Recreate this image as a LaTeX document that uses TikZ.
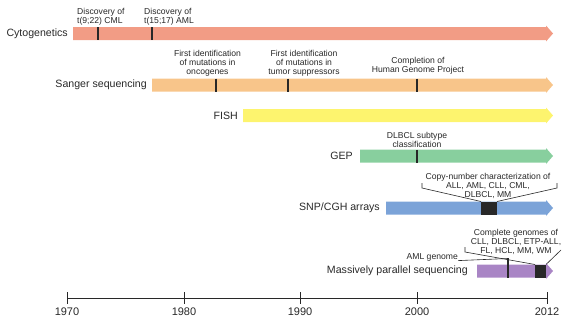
\documentclass[tikz,border=0pt]{standalone}
\usepackage{fontspec}
\setmainfont{Liberation Sans}
\definecolor{cyto}{RGB}{242,156,133}
\definecolor{sanger}{RGB}{248,197,138}
\definecolor{fish}{RGB}{253,244,110}
\definecolor{gep}{RGB}{136,207,158}
\definecolor{snp}{RGB}{123,163,216}
\definecolor{mps}{RGB}{169,133,197}
\definecolor{ink}{RGB}{40,40,40}
\newcommand\tlbar[3]{% colour, x start, y centre
  \fill[#1] (#2,#3-6.5) -- (546,#3-6.5) -- (546,#3-8) -- (553,#3) -- (546,#3+8) -- (546,#3+6.5) -- (#2,#3+6.5) -- cycle;}
\begin{document}
\begin{tikzpicture}[x=1pt,y=-1pt,
  lab/.style={font=\fontsize{10.6}{12}\selectfont, text=ink, anchor=east, inner sep=0pt},
  sm/.style={font=\fontsize{8.6}{8.8}\selectfont, text=ink, align=center, inner sep=0pt, anchor=north},
  yr/.style={font=\fontsize{11}{12}\selectfont, text=ink, inner sep=0pt},
  tickm/.style={line width=1.6pt, draw=ink},
  lead/.style={line width=0.6pt, draw=ink},
  blk/.style={fill=ink}]
\useasboundingbox (0,0) rectangle (562,322);

% bars
\tlbar{cyto}{73}{33.5}
\tlbar{sanger}{152}{85}
\tlbar{fish}{243}{115.5}
\tlbar{gep}{360}{156}
\tlbar{snp}{386}{208}
\tlbar{mps}{477}{271}

% row labels
\node[lab] (lcyto) at (68,33.5) {Cytogenetics};
\node[lab] (lsanger) at (147,85) {Sanger sequencing};
\node[lab] (lfish) at (238,115.5) {FISH};
\node[lab] (lgep) at (353,156) {GEP};
\node[lab] (lsnp) at (380,208) {SNP/CGH arrays};
\node[lab] (lmps) at (468,271) {Massively parallel sequencing};

% cytogenetics events
\draw[tickm] (98,27) -- (98,40);
\draw[tickm] (152,27) -- (152,40);
\node[sm, anchor=north west, align=left] (e1) at (77,8) {Discovery of\\t(9;22) CML};
\node[sm, anchor=north west, align=left] (e2) at (144,8) {Discovery of\\t(15;17) AML};

% sanger events
\draw[tickm] (216,78.5) -- (216,91.5);
\draw[tickm] (288,78.5) -- (288,91.5);
\draw[tickm] (417,78.5) -- (417,91.5);
\node[sm] (e3) at (207.5,50) {First identification\\of mutations in\\oncogenes};
\node[sm] (e4) at (304,50) {First identification\\of mutations in\\tumor suppressors};
\node[sm] (e5) at (418,57) {Completion of\\Human Genome Project};

% GEP
\draw[tickm] (417,149.5) -- (417,162.5);
\node[sm] (e6) at (417,132) {DLBCL subtype\\classification};

% SNP/CGH
\fill[blk] (481,201.5) rectangle (497,214.5);
\node[sm] (e7) at (488,173) {Copy-number characterization of\\ALL, AML, CLL, CML,\\DLBCL, MM};
\coordinate (b1) at (422,183);
\coordinate (b2) at (557,183);
\draw[lead] (b1) -- (422,188) -- (481,201.5);
\draw[lead] (b2) -- (557,188) -- (497,201.5);

% MPS
\fill[blk] (535,264.5) rectangle (546,277.5);
\draw[tickm] (508,258) -- (508,277.5);
\node[sm, anchor=north east] (e8) at (458,253) {AML genome};
\draw[lead] (e8.south east) ++(0,-0.5) -- (508,258.5);
\node[sm] (e9) at (516,229) {Complete genomes of\\CLL, DLBCL, ETP-ALL,\\FL, HCL, MM, WM};
\draw[lead] (465,247) -- (465,252) -- (535,264.5);
\draw[lead] (546,264.5) -- (561,250);

% axis
\coordinate (y70) at (67,298);
\coordinate (y80) at (184,298);
\coordinate (y90) at (300,298);
\coordinate (y00) at (417,298);
\coordinate (y12) at (547,298);
\draw[line width=0.9pt, ink] (y70) -- (y12);
\foreach \c/\t in {y70/1970, y80/1980, y90/1990, y00/2000, y12/2012} {
  \draw[line width=0.9pt, ink] (\c) ++(0,-6) -- ++(0,12);
  \node[yr] (t\t) at ([yshift=-14pt]\c) {\t};
}
\end{tikzpicture}
\end{document}
